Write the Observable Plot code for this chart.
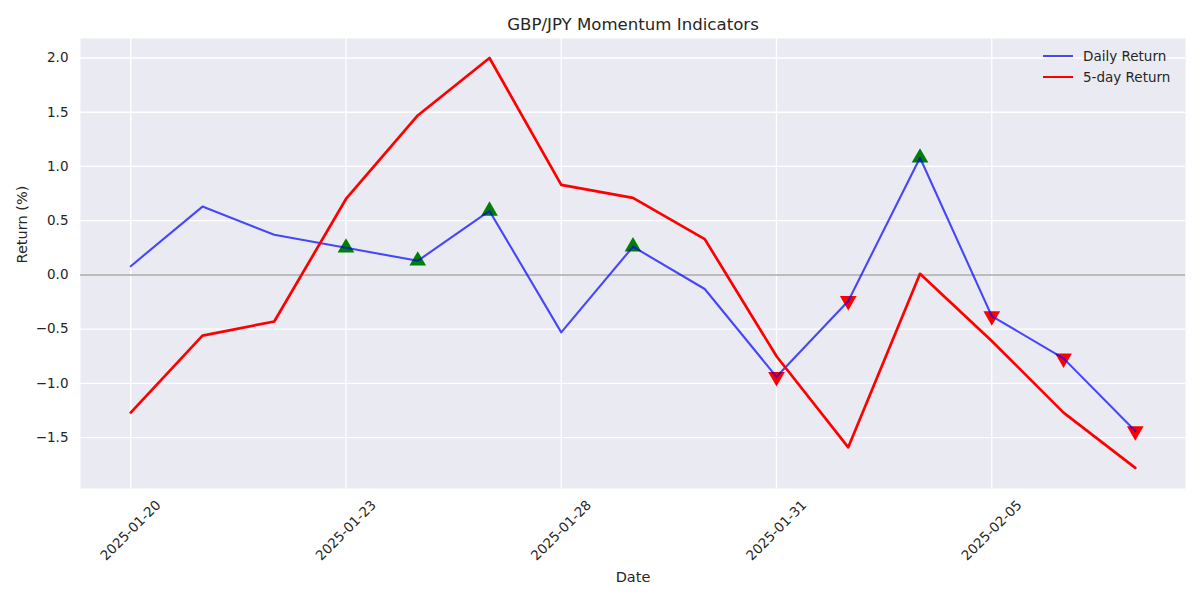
<!DOCTYPE html>
<html><head><meta charset="utf-8">
<script src="https://cdn.jsdelivr.net/npm/d3@7"></script>
<script src="https://cdn.jsdelivr.net/npm/@observablehq/plot@0.6"></script>
<style>
body{margin:0;background:#fff;font-family:"DejaVu Sans",sans-serif;}
#wrap{position:relative;width:1200px;height:600px;}
.legend{position:absolute;left:1043px;top:45px;font-size:13.5px;color:#262626;font-family:"DejaVu Sans",sans-serif;}
.legend .row{display:flex;align-items:center;height:21px;}
.legend .sw{display:inline-block;width:30px;margin-right:10px;}
</style></head><body><div id="wrap"></div>
<script>
const dates = ["2025-01-20","2025-01-21","2025-01-22","2025-01-23","2025-01-24","2025-01-27","2025-01-28","2025-01-29","2025-01-30","2025-01-31","2025-02-03","2025-02-04","2025-02-05","2025-02-06","2025-02-07"];
const dailyReturn = [0.08, 0.63, 0.37, 0.25, 0.13, 0.59, -0.53, 0.26, -0.13, -0.94, -0.24, 1.08, -0.38, -0.77, -1.44];
const fiveDayReturn = [-1.27, -0.56, -0.43, 0.70, 1.47, 2.00, 0.83, 0.71, 0.33, -0.75, -1.59, 0.01, -0.61, -1.27, -1.78];
const signal = [null, null, null, "buy", "buy", "buy", null, "buy", null, "sell", "sell", "buy", "sell", "sell", "sell"];
const xTicks = ["2025-01-20","2025-01-23","2025-01-28","2025-01-31","2025-02-05"];
const yTicks = [-1.5, -1.0, -0.5, 0.0, 0.5, 1.0, 1.5, 2.0];
const titleText = "GBP/JPY Momentum Indicators";
const xLabel = "Date";
const yLabel = "Return (%)";
const seriesNames = ["Daily Return", "5-day Return"];

const rows = dates.map((d, i) => ({date: d, daily: dailyReturn[i], five: fiveDayReturn[i], signal: signal[i]}));
const buys = rows.filter(r => r.signal === "buy");
const sells = rows.filter(r => r.signal === "sell");

const txt = "#262626";
const chart = Plot.plot({
  width: 1200, height: 600,
  marginTop: 38, marginBottom: 112, marginLeft: 80, marginRight: 15,
  style: {fontFamily: "DejaVu Sans", fontSize: "13.5px", color: txt, background: "#fff"},
  x: {type: "point", domain: dates, padding: 0.7, round: false},
  y: {domain: [-1.97, 2.18]},
  marks: [
    Plot.frame({fill: "#EAEAF2", stroke: null}),
    Plot.gridY(yTicks, {stroke: "#fff", strokeOpacity: 1, strokeWidth: 1.3}),
    Plot.gridX(xTicks, {stroke: "#fff", strokeOpacity: 1, strokeWidth: 1.3}),
    Plot.ruleY([0], {stroke: "gray", strokeOpacity: 0.5, strokeWidth: 2}),
    Plot.dot(buys, {x: "date", y: "daily", symbol: "triangle", r: 6.2, fill: "green", stroke: null}),
    Plot.dot(sells, {x: "date", y: "daily", symbol: "triangle", rotate: 180, r: 6.2, fill: "red", stroke: null}),
    Plot.line(rows, {x: "date", y: "daily", stroke: "blue", strokeOpacity: 0.7, strokeWidth: 2.1}),
    Plot.line(rows, {x: "date", y: "five", stroke: "red", strokeWidth: 2.7}),
    Plot.axisY(yTicks, {tickSize: 0, tickPadding: 12, tickFormat: d3.format(".1f"), fill: txt, fontSize: 13.5, label: null}),
    Plot.axisX(xTicks, {tickSize: 0, tickPadding: 42, tickRotate: -45, textAnchor: "middle", lineAnchor: "middle", fill: txt, fontSize: 13.5, label: null}),
    Plot.text([xLabel], {frameAnchor: "bottom", dy: 89, lineAnchor: "middle", fontSize: 14.5, fill: txt}),
    Plot.text([yLabel], {frameAnchor: "left", dx: -58, rotate: -90, lineAnchor: "middle", fontSize: 14.5, fill: txt}),
    Plot.text([titleText], {frameAnchor: "top", dy: -9, lineAnchor: "bottom", fontSize: 16.6, fill: txt})
  ]
});
const wrap = document.getElementById("wrap");
wrap.appendChild(chart);
const leg = document.createElement("div");
leg.className = "legend";
const colors = ["rgba(0,0,255,0.7)", "red"];
const widths = [2.1, 2.7];
seriesNames.forEach((n, i) => {
  const row = document.createElement("div");
  row.className = "row";
  row.innerHTML = `<span class="sw" style="border-top:${widths[i]}px solid ${colors[i]}"></span><span>${n}</span>`;
  leg.appendChild(row);
});
wrap.appendChild(leg);
</script></body></html>
